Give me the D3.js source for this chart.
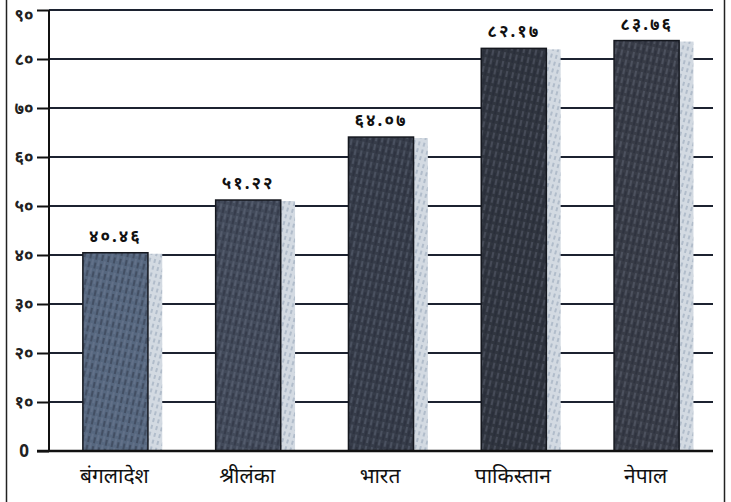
<!DOCTYPE html>
<html><head><meta charset="utf-8">
<script src="https://cdn.jsdelivr.net/npm/d3@7"></script>
<style>
html,body{margin:0;padding:0;background:#fff;}
svg{display:block;}
</style></head>
<body>
<svg id="chart" width="731" height="502"></svg>
<script>
const categories = ["बंगलादेश","श्रीलंका","भारत","पाकिस्तान","नेपाल"];
const values = [40.46, 51.22, 64.07, 82.17, 83.76];
const valueLabels = ["४०.४६","५१.२२","६४.०७","८२.१७","८३.७६"];
const tickValues = [0,10,20,30,40,50,60,70,80,90];
const tickLabels = ["0","१०","२०","३०","४०","५०","६०","७०","८०","९०"];
const barColors = ["#56677f","#424a5a","#363c49","#30353f","#383c47"];

const svg = d3.select("#chart");
const W = 731, H = 502;
const m = {left:49, right:18, top:10, bottom:51};
const x = d3.scaleBand().domain(categories).range([m.left, W-m.right]).paddingInner(0.51).paddingOuter(0.255);
const y = d3.scaleLinear().domain([0,90]).range([H-m.bottom, m.top]);

// pattern texture
const defs = svg.append("defs");
barColors.forEach((c,i)=>{
  const p = defs.append("pattern").attr("id","tex"+i).attr("patternUnits","userSpaceOnUse")
    .attr("width",6).attr("height",9).attr("patternTransform","rotate(12)");
  p.append("rect").attr("width",6).attr("height",9).attr("fill",c);
  p.append("line").attr("x1",1).attr("y1",0).attr("x2",1).attr("y2",6)
    .attr("stroke","#8a8fa6").attr("stroke-width",0.8).attr("opacity",0.6);
  p.append("line").attr("x1",4).attr("y1",3).attr("x2",4).attr("y2",9)
    .attr("stroke","#1e2230").attr("stroke-width",1).attr("opacity",0.7);
});
const sp = defs.append("pattern").attr("id","shadowTex").attr("patternUnits","userSpaceOnUse")
  .attr("width",5).attr("height",7).attr("patternTransform","rotate(15)");
sp.append("rect").attr("width",5).attr("height",7).attr("fill","#d3dae2");
sp.append("line").attr("x1",2).attr("y1",0).attr("x2",2).attr("y2",4)
  .attr("stroke","#6f86a0").attr("stroke-width",1).attr("opacity",0.7);

// outer frame lines
svg.append("line").attr("x1",6.5).attr("x2",6.5).attr("y1",0).attr("y2",H).attr("stroke","#222").attr("stroke-width",1.5);
svg.append("line").attr("x1",724.5).attr("x2",724.5).attr("y1",0).attr("y2",H).attr("stroke","#222").attr("stroke-width",1.5);

// gridlines
svg.append("g").selectAll("line").data(tickValues.filter(d=>d>0)).join("line")
  .attr("x1",m.left).attr("x2",W-m.right)
  .attr("y1",d=>y(d)).attr("y2",d=>y(d))
  .attr("stroke","#1c2230").attr("stroke-width",2);

// shadows
const shadowW = x.bandwidth()*0.22;
svg.append("g").selectAll("rect").data(values).join("rect")
  .attr("x",(d,i)=>x(categories[i])+x.bandwidth())
  .attr("y",d=>y(d)+1)
  .attr("width",shadowW)
  .attr("height",d=>y(0)-y(d)-1)
  .attr("fill","url(#shadowTex)");

// bars
svg.append("g").selectAll("rect").data(values).join("rect")
  .attr("x",(d,i)=>x(categories[i]))
  .attr("y",d=>y(d))
  .attr("width",x.bandwidth())
  .attr("height",d=>y(0)-y(d))
  .attr("fill",(d,i)=>"url(#tex"+i+")")
  .attr("stroke","#15181f").attr("stroke-width",1.5);

// y axis
const yAxis = d3.axisLeft(y).tickValues(tickValues).tickSize(12).tickPadding(10)
  .tickFormat((d,i)=>tickLabels[i]);
const ga = svg.append("g").attr("transform",`translate(${m.left},0)`).call(yAxis);
ga.select(".domain").remove();
ga.selectAll(".tick line").attr("stroke","#111").attr("stroke-width",2);
ga.selectAll(".tick text").attr("font-family","'Noto Sans','Noto Sans Devanagari',sans-serif")
  .attr("font-size",17).attr("font-weight","bold").attr("fill","#222").attr("x",-25).attr("text-anchor","middle")
  .attr("dy",d=>d===90?"0.62em":"0.32em");
svg.append("line").attr("x1",m.left).attr("x2",m.left).attr("y1",y(90)).attr("y2",y(0))
  .attr("stroke","#111").attr("stroke-width",2);
// x baseline
svg.append("line").attr("x1",m.left-12).attr("x2",W-m.right).attr("y1",y(0)).attr("y2",y(0))
  .attr("stroke","#111").attr("stroke-width",2.5);

// x axis labels
const xAxis = d3.axisBottom(x).tickSize(0).tickPadding(17);
const gx = svg.append("g").attr("transform",`translate(0,${y(0)})`).call(xAxis);
gx.select(".domain").remove();
gx.selectAll(".tick text").attr("font-family","'Noto Sans','Noto Sans Devanagari',sans-serif")
  .attr("font-size",21).attr("fill","#111").attr("dx",-1);

// value labels
svg.append("g").selectAll("text").data(values).join("text")
  .attr("x",(d,i)=>x(categories[i])+x.bandwidth()/2)
  .attr("y",d=>y(d)-11)
  .attr("text-anchor","middle")
  .attr("font-family","'Noto Sans','Noto Sans Devanagari',sans-serif")
  .attr("font-size",17).attr("font-weight","bold").attr("letter-spacing",2)
  .attr("fill","#111")
  .text((d,i)=>valueLabels[i]);
</script>
</body></html>
